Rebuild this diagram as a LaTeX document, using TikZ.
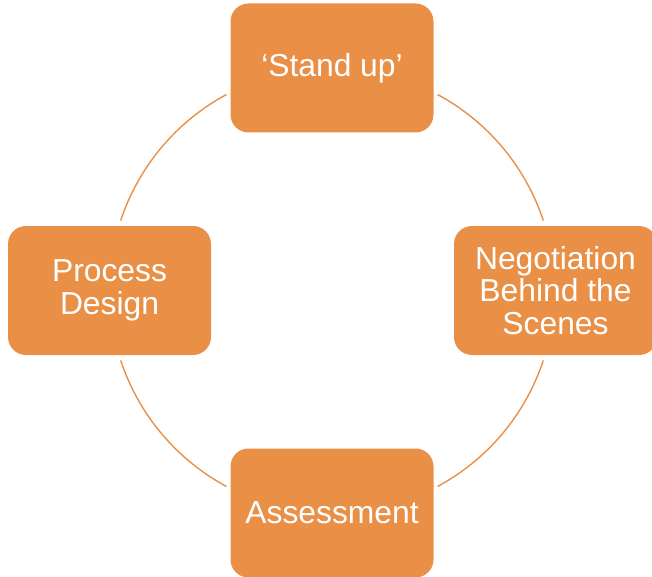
\documentclass[tikz,border=0pt]{standalone}
\usepackage{fontspec}
\setmainfont{Liberation Sans}
\definecolor{boxorange}{HTML}{E98F46}
\begin{document}
\begin{tikzpicture}[x=1pt,y=-1pt,
  stepbox/.style={fill=boxorange,draw=none,rounded corners=18pt,minimum width=203pt,minimum height=129pt,inner sep=0pt,
    text=white,align=center,font=\fontsize{31.8}{32.5}\selectfont},
  ring/.style={draw=boxorange,line width=1.4pt}]
\useasboundingbox (0,0) rectangle (652,577);
\node[stepbox] (top) at (332,68) {‘Stand up’};
\node[stepbox] (right) at (555.5,290.5) {Negotiation\\Behind the\\Scenes};
\node[stepbox] (bottom) at (332,513) {Assessment};
\node[stepbox] (left) at (109.5,290.5) {Process\\Design};
\coordinate (c) at (332,290.5);
\draw[ring] (c) ++(18.3:222.6pt) arc[start angle=18.3,end angle=61.7,radius=222.6pt];
\draw[ring] (c) ++(118.3:222.6pt) arc[start angle=118.3,end angle=161.7,radius=222.6pt];
\draw[ring] (c) ++(198.3:222.6pt) arc[start angle=198.3,end angle=241.7,radius=222.6pt];
\draw[ring] (c) ++(298.3:222.6pt) arc[start angle=298.3,end angle=341.7,radius=222.6pt];
\end{tikzpicture}
\end{document}
